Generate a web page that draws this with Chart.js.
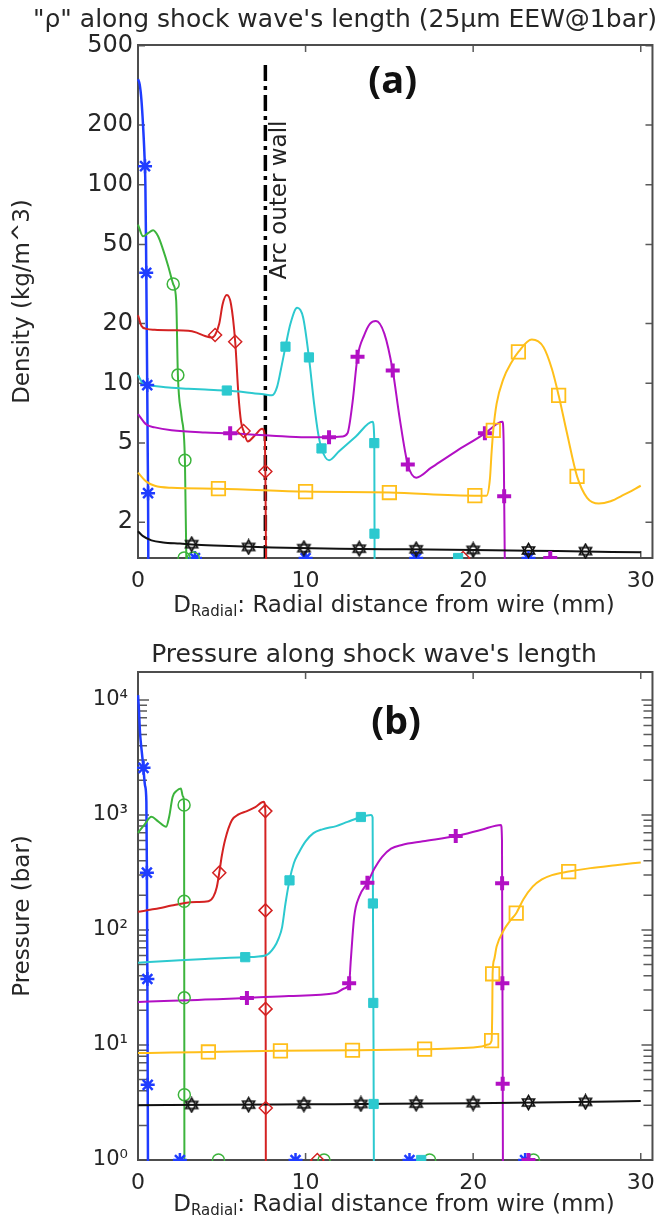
<!DOCTYPE html>
<html>
<head>
<meta charset="utf-8">
<script src="https://cdn.jsdelivr.net/npm/chart.js@4.4.1/dist/chart.umd.min.js"></script>
<style>
  body { margin: 0; background: #fff; }
  canvas { display: block; }
  .panel { position: relative; width: 665px; }
  .xtitle {
    position: absolute; left: 138px; width: 512px; text-align: center;
    font: 23px "DejaVu Sans", sans-serif; color: #262626; line-height: 26px; white-space: nowrap;
  }
  .xtitle sub { font-size: 15px; vertical-align: -4px; line-height: 0; }
</style>
</head>
<body>
<div class="panel" style="height:612px">
  <canvas id="densChart" width="665" height="612"></canvas>
  <div class="xtitle" style="top:591px">D<sub>Radial</sub>: Radial distance from wire (mm)</div>
</div>
<div class="panel" style="height:606px">
  <canvas id="presChart" width="665" height="606"></canvas>
  <div class="xtitle" style="top:578px">D<sub>Radial</sub>: Radial distance from wire (mm)</div>
</div>
<script>
// axes
const xTicks = [0, 10, 20, 30];
const xMax = 30.7;
const densTicks = [2, 5, 10, 20, 50, 100, 200, 500];
const densMin = 1.32, densMax = 505;
const presDecades = [1, 10, 100, 1000, 10000];
const presLabels = ["10⁰", "10¹", "10²", "10³", "10⁴"];
const presMin = 1, presMax = 17500;

// arc outer wall marker line (a)
const arcWallX = 7.6;
const arcWallTop = 400;

// (a) density, kg/m^3  -- [mm, value]
const densBlue = [[0,340],[0.1,320],[0.2,270],[0.3,200],[0.38,145],[0.44,100],[0.48,50],[0.52,20],[0.55,9.8],[0.58,4.5],[0.6,2.8],[0.62,1.0]];
const densBlueMarks = [[0.42,124],[0.49,36],[0.55,9.8],[0.6,2.8]];
const densBlueLow = [[3.4,1.32],[10.0,1.32],[16.6,1.32],[23.3,1.32]];

const densGreen = [[0,63],[0.3,55],[0.6,57],[0.9,59],[1.2,55],[1.5,47],[1.8,39],[2.1,31.6],[2.28,26],[2.38,11],[2.6,6.8],[2.8,4.1],[2.9,1.0]];
const densGreenMarks = [[2.1,31.6],[2.38,11],[2.8,4.1]];
const densGreenLow = [[2.75,1.32],[3.3,1.32]];

const densRed = [[0,22],[0.2,19.5],[0.5,18.8],[1,18.6],[2,18.5],[3,18.4],[3.5,18],[4,17.3],[4.4,17],[4.6,17.5],[4.85,20],[5.05,25],[5.3,27.8],[5.55,25],[5.8,16.2],[6.0,8.6],[6.15,6.4],[6.3,5.75],[6.55,5.1],[7.0,5.5],[7.4,5.9],[7.55,5.6],[7.6,3.6],[7.65,1.0]];
const densRedMarks = [[4.6,17.5],[5.8,16.2],[6.3,5.75],[7.6,3.6]];
const densRedLow = [[19.4,1.32]];

const densCyan = [[0,11],[0.3,10],[1,9.7],[2,9.5],[3,9.4],[4,9.3],[5.3,9.2],[6.5,9.0],[7.5,8.8],[8.0,8.7],[8.3,9.6],[8.55,12],[8.8,15.3],[9.1,20],[9.5,24],[9.85,21.5],[10.2,13.5],[10.5,8],[10.75,5.6],[10.95,4.7],[11.4,4.1],[12.0,4.55],[13.0,5.4],[14.0,6.4],[14.1,5.2],[14.12,1.0]];
const densCyanMarks = [[5.3,9.2],[8.8,15.3],[10.2,13.5],[10.95,4.7],[14.1,5.0],[14.11,1.75]];
const densCyanLow = [[19.1,1.32]];

const densMagenta = [[0,7.0],[0.5,6.2],[1,6.0],[2,5.8],[4,5.65],[5.5,5.6],[8,5.45],[10,5.35],[11.4,5.35],[12.2,5.4],[12.5,5.6],[12.8,8],[13.1,13.6],[13.5,17.5],[13.85,20],[14.2,20.6],[14.7,17.8],[15.2,11.6],[15.6,6.8],[16.1,3.9],[16.6,3.35],[17.5,3.76],[19,4.56],[20.7,5.6],[21.5,6.3],[21.75,6.4],[21.82,5],[21.85,2.7],[21.9,1.0]];
const densMagentaMarks = [[5.5,5.6],[11.4,5.35],[13.1,13.6],[15.2,11.6],[16.1,3.9],[20.7,5.6],[21.85,2.7]];
const densMagentaLow = [[24.6,1.32]];

const densYellow = [[0,3.55],[0.5,3.2],[1,3.05],[2,2.98],[4.8,2.95],[10,2.85],[15,2.82],[20.1,2.72],[20.8,2.72],[21.0,3.3],[21.1,4.5],[21.2,5.8],[21.4,7.9],[21.8,10.5],[22.3,12.8],[22.7,14.4],[23.5,16.6],[24.2,15.2],[24.7,11.8],[25.1,8.7],[25.6,5.6],[26.2,3.4],[26.8,2.65],[27.5,2.48],[28.2,2.55],[29,2.75],[30,3.05]];
const densYellowMarks = [[4.8,2.95],[10,2.85],[15,2.82],[20.1,2.72],[21.2,5.8],[22.7,14.4],[25.1,8.7],[26.2,3.4]];

const densBlack = [[0,1.8],[0.3,1.7],[0.8,1.62],[1.5,1.58],[2.5,1.56],[3.5,1.54],[5,1.52],[8,1.49],[12,1.47],[16,1.46],[20,1.45],[25,1.43],[30,1.41]];
const densBlackMarks = [[3.2,1.55],[6.6,1.5],[9.9,1.48],[13.2,1.47],[16.6,1.46],[20,1.45],[23.3,1.44],[26.7,1.43]];

// (b) pressure, bar
const presBlue = [[0,11000],[0.05,8500],[0.12,5200],[0.22,3600],[0.31,2700],[0.42,1800],[0.5,1300],[0.53,315],[0.56,37.5],[0.58,4.5],[0.6,0.5]];
const presBlueMarks = [[0.33,2570],[0.53,315],[0.56,37.5],[0.58,4.5]];
const presBlueLow = [[2.5,1],[9.4,1],[16.2,1],[23.1,1]];

const presGreen = [[0,700],[0.4,830],[0.8,965],[1.2,880],[1.68,790],[1.85,950],[2.07,1440],[2.3,1620],[2.56,1700],[2.68,1450],[2.75,1220],[2.77,0.5]];
const presGreenMarks = [[2.75,1220],[2.755,178],[2.76,25.7],[2.765,3.7]];
const presGreenLow = [[4.8,1],[11.1,1],[17.4,1],[23.6,1]];

const presRed = [[0,144],[1,152],[2,163],[2.8,172],[3.5,175],[4.2,178],[4.5,195],[4.7,235],[4.85,315],[5.0,440],[5.2,610],[5.6,900],[6.0,1010],[6.5,1080],[7.0,1170],[7.5,1300],[7.6,1080],[7.63,0.5]];
const presRedMarks = [[4.85,315],[7.6,1080],[7.608,148],[7.615,20.6],[7.623,2.83]];
const presRedLow = [[10.7,1]];

const presCyan = [[0,52],[2,54],[4,56],[6.4,58],[7.6,60],[8.13,71],[8.4,85],[8.6,106],[8.8,170],[9.04,270],[9.3,380],[9.58,465],[10.0,590],[10.47,695],[11,750],[11.83,800],[12.5,870],[13.3,960],[13.9,1000],[14.0,950],[14.08,0.5]];
const presCyanMarks = [[6.4,58],[9.04,270],[13.3,960],[14.018,170],[14.039,23.2],[14.061,3.07]];
const presCyanLow = [[16.9,1]];

const presMagenta = [[0,23.7],[2,24.2],[4,24.8],[6.5,25.6],[9,26.7],[11.8,28.3],[12.3,31],[12.6,34.5],[12.7,55],[12.9,130],[13.2,195],[13.69,257],[14.1,340],[14.57,433],[15.1,510],[15.74,549],[17,590],[18.96,655],[20.5,745],[21.66,820],[21.72,600],[21.78,0.5]];
const presMagentaMarks = [[6.5,25.6],[12.6,34.5],[13.69,257],[18.96,655],[21.727,255],[21.744,34.5],[21.761,4.6]];
const presMagentaLow = [[23.3,1]];

const presYellow = [[0,8.5],[2,8.6],[4.2,8.7],[8.5,8.9],[12.8,9.0],[17.1,9.2],[20.5,9.7],[20.9,10.1],[21.1,10.9],[21.14,20],[21.16,41.6],[21.25,55],[21.4,71.8],[21.83,100],[22.2,120],[22.57,140],[23,185],[23.55,238],[24.1,275],[24.7,300],[25.7,322],[27,345],[28.5,366],[30,387]];
const presYellowMarks = [[4.2,8.7],[8.5,8.9],[12.8,9.0],[17.1,9.2],[21.1,10.9],[21.16,41.6],[22.57,140],[25.7,322]];

const presBlack = [[0,3.0],[5,3.02],[10,3.05],[15,3.08],[20,3.12],[25,3.18],[30,3.26]];
const presBlackMarks = [[3.2,3.01],[6.6,3.03],[9.9,3.05],[13.3,3.07],[16.6,3.09],[20,3.12],[23.3,3.16],[26.7,3.2]];

const BLUE = "#1f3cff", GREEN = "#3cb43c", RED = "#d42222", CYAN = "#2cc9cf",
      MAGENTA = "#b210c4", YELLOW = "#ffbf1a", BLACK = "#111111", TEXT = "#262626";

Chart.defaults.font.family = '"DejaVu Sans", sans-serif';
Chart.defaults.color = TEXT;

// star of david marker for the black series
function hexagram(size, color) {
  const c = document.createElement("canvas");
  c.width = c.height = size;
  const g = c.getContext("2d");
  const r = size / 2 - 1.5, m = size / 2;
  g.strokeStyle = color;
  g.lineWidth = 1.6;
  [-Math.PI / 2, Math.PI / 2].forEach((rot) => {
    g.beginPath();
    for (let i = 0; i < 3; i++) {
      const a = rot + (i * 2 * Math.PI) / 3;
      const px = m + r * Math.cos(a), py = m + r * Math.sin(a);
      if (i) g.lineTo(px, py); else g.moveTo(px, py);
    }
    g.closePath();
    g.stroke();
  });
  return c;
}
const hexMark = hexagram(17, BLACK);

const toXY = (pts) => pts.map((p) => ({ x: p[0], y: p[1] }));

function lineSet(pts, color, width) {
  return {
    data: toXY(pts),
    borderColor: color,
    borderWidth: width || 2,
    pointRadius: 0,
    cubicInterpolationMode: "monotone",
    clip: 1,
    order: 2,
  };
}

function markSet(pts, color, style, radius, bw, filled) {
  return {
    data: toXY(pts),
    showLine: false,
    pointStyle: style,
    pointRadius: radius,
    pointBorderWidth: bw,
    pointBorderColor: color,
    pointBackgroundColor: filled ? color : "rgba(0,0,0,0)",
    borderColor: color,
    clip: 1,
    order: 1,
  };
}

// frame + inward ticks, MATLAB style
const boxTicks = {
  id: "boxTicks",
  beforeDatasetsDraw(chart, args, opts) {
    const { ctx, chartArea: a, scales } = chart;
    const x = scales.x, y = scales.y;
    ctx.save();
    ctx.strokeStyle = "#5a5a5a";
    ctx.lineWidth = 1.5;
    ctx.beginPath();
    y.ticks.forEach((t) => {
      const py = y.getPixelForValue(t.value);
      const len = t.label ? opts.major : opts.minor;
      ctx.moveTo(a.left, py); ctx.lineTo(a.left + len, py);
      ctx.moveTo(a.right, py); ctx.lineTo(a.right - len, py);
    });
    x.ticks.forEach((t) => {
      const px = x.getPixelForValue(t.value);
      ctx.moveTo(px, a.top); ctx.lineTo(px, a.top + 7);
      ctx.moveTo(px, a.bottom); ctx.lineTo(px, a.bottom - 7);
    });
    ctx.stroke();
    ctx.lineWidth = 2;
    ctx.strokeStyle = "#4d4d4d";
    ctx.strokeRect(a.left, a.top, a.right - a.left, a.bottom - a.top);
    ctx.restore();
  },
};

const panelText = {
  id: "panelText",
  afterDatasetsDraw(chart, args, opts) {
    const { ctx, chartArea: a, scales } = chart;
    const x = scales.x;
    ctx.save();
    ctx.fillStyle = "#111";
    ctx.textAlign = "center";
    ctx.textBaseline = "middle";
    ctx.font = 'bold 38px "Open Sans", sans-serif';
    ctx.fillText(opts.tag, x.getPixelForValue(opts.tagX), a.top + opts.tagDy);
    if (opts.note) {
      ctx.translate(x.getPixelForValue(opts.noteX) + 15, a.top + opts.noteDy);
      ctx.rotate(-Math.PI / 2);
      ctx.font = '23px "DejaVu Sans", sans-serif';
      ctx.fillStyle = "#222";
      ctx.fillText(opts.note, 0, 0);
    }
    ctx.restore();
  },
};

function xScale(height, pad) {
  return {
    type: "linear",
    min: 0,
    max: xMax,
    afterBuildTicks: (s) => { s.ticks = xTicks.map((v) => ({ value: v })); },
    afterFit: (s) => { s.height = height; },
    grid: { display: false, drawTicks: false },
    border: { display: false },
    ticks: { font: { size: 22 }, color: TEXT, padding: pad, maxRotation: 0, autoSkip: false },
  };
}

function series(line, marks, low, color, style, r, bw, filled, lw) {
  const out = [lineSet(line, color, lw), markSet(marks, color, style, r, bw, filled)];
  if (low) out.push(markSet(low, color, style, r, bw, filled));
  return out;
}

// ---------- (a) density ----------
const densSets = [].concat(
  series(densBlack, densBlackMarks, null, BLACK, hexMark, 8, 1, false),
  series(densYellow, densYellowMarks, null, YELLOW, "rect", 9.5, 1.8, false),
  series(densMagenta, densMagentaMarks, densMagentaLow, MAGENTA, "cross", 7, 4, false),
  series(densCyan, densCyanMarks, densCyanLow, CYAN, "rect", 6.5, 1, true),
  series(densRed, densRedMarks, densRedLow, RED, "rectRot", 6.5, 1.5, false),
  series(densGreen, densGreenMarks, densGreenLow, GREEN, "circle", 6, 1.5, false),
  series(densBlue, densBlueMarks, densBlueLow, BLUE, "star", 7, 2.5, false, 2.5),
  [{
    data: toXY([[arcWallX, arcWallTop], [arcWallX, densMin]]),
    borderColor: "#000",
    borderWidth: 3.5,
    borderDash: [16, 5, 4, 5],
    pointRadius: 0,
    clip: 1,
    order: 3,
  }]
);

new Chart(document.getElementById("densChart"), {
  type: "line",
  data: { datasets: densSets },
  options: {
    responsive: false,
    animation: false,
    events: [],
    // left padding shifts the full-width title right; the axis box keeps the plot at x=138
    layout: { padding: { left: 28, right: 3, top: 0, bottom: 0 } },
    scales: {
      x: xScale(54, 10),
      y: {
        type: "logarithmic",
        min: densMin,
        max: densMax,
        afterBuildTicks: (s) => { s.ticks = densTicks.map((v) => ({ value: v })); },
        afterFit: (s) => { s.width = 110; },
        grid: { display: false, drawTicks: false },
        border: { display: false },
        ticks: { callback: (v) => String(v), font: { size: 24 }, color: TEXT, padding: 5, autoSkip: false },
        title: { display: true, text: "Density (kg/m^3)", font: { size: 23 }, color: TEXT, padding: { top: -19, bottom: 0 } },
      },
    },
    plugins: {
      legend: { display: false },
      tooltip: { enabled: false },
      title: {
        display: true,
        text: "\"ρ\" along shock wave's length (25μm EEW@1bar)",
        font: { size: 25, weight: "normal" },
        color: TEXT,
        padding: { top: 5, bottom: 10 },
        fullSize: true,
      },
      boxTicks: { major: 7, minor: 7 },
      panelText: { tag: "(a)", tagX: 15.2, tagDy: 37, note: "Arc outer wall", noteX: arcWallX, noteDy: 155 },
    },
  },
  plugins: [boxTicks, panelText],
});

// ---------- (b) pressure ----------
const presTicks = [];
presDecades.forEach((d) => {
  for (let m = 1; m <= 9; m++) if (d * m <= presMax) presTicks.push(d * m);
});

const presSets = [].concat(
  series(presBlack, presBlackMarks, null, BLACK, hexMark, 8, 1, false),
  series(presYellow, presYellowMarks, null, YELLOW, "rect", 9.5, 1.8, false),
  series(presMagenta, presMagentaMarks, presMagentaLow, MAGENTA, "cross", 7, 4, false),
  series(presCyan, presCyanMarks, presCyanLow, CYAN, "rect", 6.5, 1, true),
  series(presRed, presRedMarks, presRedLow, RED, "rectRot", 6.5, 1.5, false),
  series(presGreen, presGreenMarks, presGreenLow, GREEN, "circle", 6, 1.5, false),
  series(presBlue, presBlueMarks, presBlueLow, BLUE, "star", 7, 2.5, false, 2.5)
);

new Chart(document.getElementById("presChart"), {
  type: "line",
  data: { datasets: presSets },
  options: {
    responsive: false,
    animation: false,
    events: [],
    // same trick as (a); the axis box still has to hold the "10ⁿ" labels
    layout: { padding: { left: 86, right: 3, top: 0, bottom: 0 } },
    scales: {
      x: xScale(58, 10),
      y: {
        type: "logarithmic",
        min: presMin,
        max: presMax,
        afterBuildTicks: (s) => { s.ticks = presTicks.map((v) => ({ value: v })); },
        afterFit: (s) => { s.width = 52; },
        grid: { display: false, drawTicks: false },
        border: { display: false },
        ticks: {
          callback: (v) => { const i = presDecades.indexOf(v); return i >= 0 ? presLabels[i] : ""; },
          font: { size: 21 },
          color: TEXT,
          padding: 10,
          autoSkip: false,
        },
        title: { display: true, text: "Pressure (bar)", font: { size: 23 }, color: TEXT, padding: { top: -77, bottom: 0 } },
      },
    },
    plugins: {
      legend: { display: false },
      tooltip: { enabled: false },
      title: {
        display: true,
        text: "Pressure along shock wave's length",
        font: { size: 25, weight: "normal" },
        color: TEXT,
        padding: { top: 28, bottom: 2 },
        fullSize: true,
      },
      boxTicks: { major: 11, minor: 9 },
      panelText: { tag: "(b)", tagX: 15.4, tagDy: 51 },
    },
  },
  plugins: [boxTicks, panelText],
});
</script>
</body>
</html>
